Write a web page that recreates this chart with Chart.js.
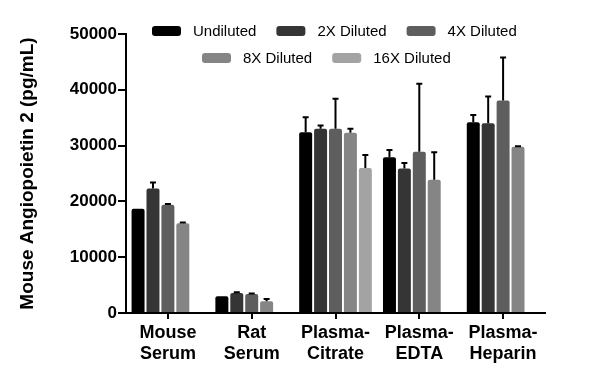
<!DOCTYPE html>
<html>
<head>
<meta charset="utf-8">
<script src="https://cdn.jsdelivr.net/npm/chart.js@4.4.0/dist/chart.umd.min.js"></script>
<style>
  html,body{margin:0;padding:0;background:#fff;}
  #wrap{width:600px;height:389px;}
</style>
</head>
<body>
<div id="wrap"><canvas id="c" width="600" height="389"></canvas></div>
<script>
// sample types and dilution series
const categories = [['Mouse','Serum'],['Rat','Serum'],['Plasma-','Citrate'],['Plasma-','EDTA'],['Plasma-','Heparin']];
const seriesNames = ['Undiluted','2X Diluted','4X Diluted','8X Diluted','16X Diluted'];
const seriesColors = ['#000000','#353535','#5e5e5e','#858585','#a3a3a3'];

const undiluted = [18700, 3000, 32400, 27900, 34200];
const dil2x     = [22300, 3600, 33000, 25900, 34000];
const dil4x     = [19400, 3400, 33000, 28900, 38100];
const dil8x     = [16100, 2100, 32300, 23900, 29800];
const dil16x    = [null,  null, 26000, null,  null];

// upper error (SD)
const errUndiluted = [null, null, 2700, 1300, 1300];
const err2x        = [1100, 100, 600,  1000, 4800];
const err4x        = [150,  100, 5400, 12200, 7700];
const err8x        = [100,  400, 700,  4900, 100];
const err16x       = [null, null, 2300, null, null];

const yTicks = [0, 10000, 20000, 30000, 40000, 50000];

const values = [undiluted, dil2x, dil4x, dil8x, dil16x];
const errors = [errUndiluted, err2x, err4x, err8x, err16x];

const errorBars = {
  id:'errorBars',
  afterDatasetsDraw(chart){
    const ctx = chart.ctx, y = chart.scales.y;
    ctx.save();
    ctx.strokeStyle = '#000';
    ctx.lineWidth = 2;
    chart.data.datasets.forEach((ds, i)=>{
      const meta = chart.getDatasetMeta(i);
      meta.data.forEach((bar, j)=>{
        const v = ds.data[j], e = ds.errors[j];
        if (v == null || e == null) return;
        const top = y.getPixelForValue(v), end = y.getPixelForValue(v + e);
        ctx.beginPath();
        ctx.moveTo(bar.x, top); ctx.lineTo(bar.x, end);
        ctx.moveTo(bar.x - 3, end); ctx.lineTo(bar.x + 3, end);
        ctx.stroke();
      });
    });
    ctx.restore();
  }
};

// legend drawn in two rows over the plot
const legendRows = [{x:152, y:31, items:[0,1,2]}, {x:202, y:58, items:[3,4]}];
const twoRowLegend = {
  id:'twoRowLegend',
  afterDraw(chart){
    const ctx = chart.ctx;
    ctx.save();
    ctx.font = '15px "Liberation Sans", Arial, sans-serif';
    ctx.textBaseline = 'middle';
    legendRows.forEach(r=>{
      let x = r.x;
      r.items.forEach(i=>{
        ctx.fillStyle = seriesColors[i];
        ctx.beginPath();
        ctx.roundRect(x, r.y - 5, 29, 10, 3);
        ctx.fill();
        ctx.fillStyle = '#000';
        ctx.fillText(seriesNames[i], x + 41, r.y + 1);
        x += 41 + ctx.measureText(seriesNames[i]).width + 20;
      });
    });
    ctx.restore();
  }
};

const fam = '"Liberation Sans", Arial, sans-serif';

new Chart(document.getElementById('c'), {
  type:'bar',
  data:{
    labels: categories,
    datasets: values.map((d, i)=>({
      label: seriesNames[i],
      data: d,
      errors: errors[i],
      backgroundColor: seriesColors[i],
      borderRadius: 2,
      borderSkipped: 'bottom',
      categoryPercentage: 0.89,
      barPercentage: 0.87
    }))
  },
  options:{
    responsive:false,
    animation:false,
    layout:{ padding:{ top:34, right:55, left:0, bottom:0 } },
    plugins:{ legend:{ display:false }, tooltip:{ enabled:false } },
    scales:{
      x:{
        grid:{ display:true, drawOnChartArea:false, offset:false, color:'#000', lineWidth:2, tickLength:6 },
        border:{ color:'#000', width:2 },
        ticks:{ color:'#000', font:{family:fam, size:18, weight:'bold', lineHeight:1.2}, padding:3, maxRotation:0 },
        afterFit(s){ s.height = 76; }
      },
      y:{
        min:0, max:50000,
        afterBuildTicks(s){ s.ticks = yTicks.map(v=>({value:v})); },
        grid:{ display:true, drawOnChartArea:false, color:'#000', lineWidth:2, tickLength:8 },
        border:{ color:'#000', width:2 },
        ticks:{ color:'#000', font:{family:fam, size:17, weight:'bold'}, padding:1, callback:v=>String(v) },
        title:{ display:true, text:'Mouse Angiopoietin 2 (pg/mL)', color:'#000',
                font:{family:fam, size:19, weight:'bold'}, padding:{top:16, bottom:0} },
        afterFit(s){ s.width = 126; }
      }
    }
  },
  plugins:[errorBars, twoRowLegend]
});
</script>
</body>
</html>
